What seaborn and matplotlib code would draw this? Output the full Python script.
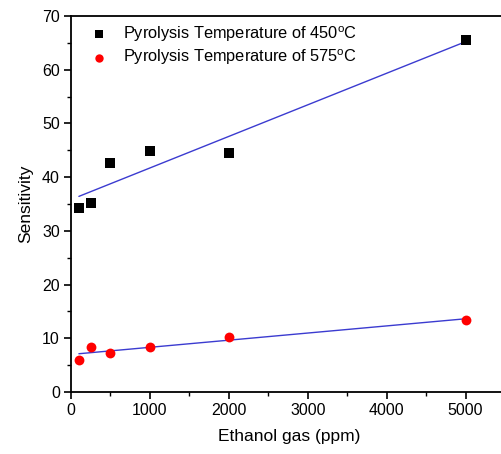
import matplotlib
matplotlib.use("Agg")
import matplotlib.pyplot as plt
from matplotlib.ticker import MultipleLocator
import seaborn as sns
import pandas as pd

# Sensitivity vs. ethanol concentration for two pyrolysis temperatures
ethanol_ppm = [100, 250, 500, 1000, 2000, 5000]
sens_450 = [34.3, 35.2, 42.6, 44.8, 44.5, 65.6]
sens_575 = [6.0, 8.4, 7.3, 8.4, 10.2, 13.4]
label_450 = r"Pyrolysis Temperature of 450$^{\mathrm{o}}$C"
label_575 = r"Pyrolysis Temperature of 575$^{\mathrm{o}}$C"

df450 = pd.DataFrame({"ppm": ethanol_ppm, "sens": sens_450})
df575 = pd.DataFrame({"ppm": ethanol_ppm, "sens": sens_575})

sns.set_style("white", rc={"text.color": "black", "axes.labelcolor": "black",
                           "xtick.color": "black", "ytick.color": "black"})
plt.rcParams["font.family"] = ["Liberation Sans", "DejaVu Sans"]
plt.rcParams["mathtext.fontset"] = "custom"
plt.rcParams["mathtext.rm"] = "Liberation Sans"
plt.rcParams["mathtext.it"] = "Liberation Sans:italic"

fig = plt.figure(figsize=(5.02, 4.54), dpi=100)
ax = fig.add_axes([71 / 502, 62 / 454, (502 - 71) / 502 + 0.01, 376 / 454])

fit_color = "#3b3bd0"
sns.regplot(data=df450, x="ppm", y="sens", ax=ax, ci=None, marker="s",
            scatter_kws=dict(color="black", s=42, linewidths=0, alpha=1, zorder=3),
            line_kws=dict(color=fit_color, lw=1.0), label=label_450)
sns.regplot(data=df575, x="ppm", y="sens", ax=ax, ci=None, marker="o",
            scatter_kws=dict(color="red", s=50, linewidths=0, alpha=1, zorder=3),
            line_kws=dict(color=fit_color, lw=1.0), label=label_575)

ax.set_xlim(0, 5525)
ax.set_ylim(0, 70)
ax.xaxis.set_major_locator(MultipleLocator(1000))
ax.xaxis.set_minor_locator(MultipleLocator(500))
ax.yaxis.set_major_locator(MultipleLocator(10))
ax.yaxis.set_minor_locator(MultipleLocator(5))
ax.tick_params(which="major", direction="out", length=5, width=1.2,
               labelsize=11.5, colors="black", left=True, bottom=True, pad=3)
ax.tick_params(which="minor", direction="out", length=3, width=1.0,
               left=True, bottom=True)
for side in ["left", "bottom", "top"]:
    ax.spines[side].set_color("black")
    ax.spines[side].set_linewidth(1.3)
ax.spines["right"].set_visible(False)

ax.set_xlabel("Ethanol gas (ppm)", fontsize=12.5, labelpad=8)
ax.set_ylabel("Sensitivity", fontsize=12.5, labelpad=6)

handles = [c for c in ax.collections]
ax.legend(handles=handles, labels=[label_450, label_575], loc="upper left",
          frameon=False, fontsize=11.8, handletextpad=0.65, borderaxespad=0.2,
          labelspacing=0.25, handlelength=1.6, markerscale=0.85,
          bbox_to_anchor=(0.012, 1.005))

fig.savefig("out.png", dpi=100)
